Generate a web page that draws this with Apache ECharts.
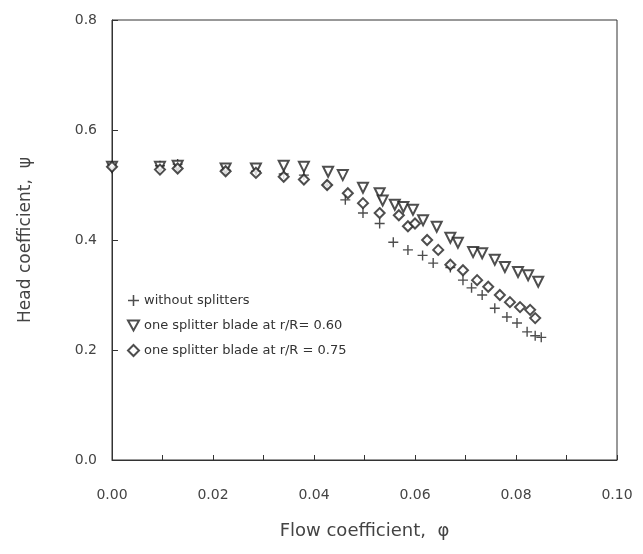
<!DOCTYPE html>
<html>
<head>
<meta charset="utf-8">
<script src="https://cdn.jsdelivr.net/npm/echarts@6/dist/echarts.min.js"></script>
<style>
	html, body { margin: 0; padding: 0; background: #fff; }
	#chart { width: 643px; height: 554px; }
</style>
</head>
<body>
<div id="chart"></div>
<script>
// Flow coefficient (phi) and head coefficient (psi) per series
var plainPhi = [0.0, 0.0095, 0.013, 0.0225, 0.0285, 0.034, 0.038, 0.0426, 0.0462, 0.0497, 0.053, 0.0557, 0.0586, 0.0615, 0.0636, 0.067, 0.0695, 0.0712, 0.0733, 0.0758, 0.0782, 0.0802, 0.0822, 0.0838, 0.085];
var plainPsi = [0.533, 0.535, 0.538, 0.527, 0.525, 0.52, 0.518, 0.50, 0.473, 0.449, 0.43, 0.396, 0.382, 0.372, 0.358, 0.35, 0.327, 0.313, 0.30, 0.276, 0.26, 0.249, 0.233, 0.226, 0.223];

var split60Phi = [0.0, 0.0095, 0.013, 0.0225, 0.0285, 0.034, 0.038, 0.0428, 0.0457, 0.0497, 0.053, 0.0536, 0.056, 0.0577, 0.0596, 0.0616, 0.0643, 0.067, 0.0685, 0.0715, 0.0733, 0.0758, 0.0778, 0.0804, 0.0824, 0.0844];
var split60Psi = [0.533, 0.533, 0.535, 0.53, 0.53, 0.535, 0.533, 0.524, 0.518, 0.495, 0.485, 0.472, 0.464, 0.46, 0.455, 0.436, 0.424, 0.404, 0.395, 0.378, 0.376, 0.364, 0.351, 0.342, 0.336, 0.324];

var split75Phi = [0.0, 0.0095, 0.013, 0.0225, 0.0285, 0.034, 0.038, 0.0426, 0.0467, 0.0497, 0.053, 0.0568, 0.0586, 0.06, 0.0624, 0.0646, 0.067, 0.0695, 0.0723, 0.0745, 0.0768, 0.0788, 0.0808, 0.0828, 0.0838];
var split75Psi = [0.533, 0.528, 0.53, 0.525, 0.522, 0.515, 0.51, 0.50, 0.485, 0.467, 0.449, 0.445, 0.425, 0.43, 0.40, 0.382, 0.355, 0.345, 0.327, 0.315, 0.30, 0.287, 0.278, 0.273, 0.258];

var seriesNames = ["without splitters", "one splitter blade at r/R= 0.60", "one splitter blade at r/R = 0.75"];

function pairs(xs, ys) {
	return xs.map(function (x, i) {
		return [x, ys[i]];
	});
}

var ink = "#222";
var plus = "path://M4.3,0H5.7V4.3H10V5.7H5.7V10H4.3V5.7H0V4.3H4.3Z";
// 倒三角
var downTri = "path://M0,0L10,0L5,9Z";

var myChart = echarts.init(document.getElementById("chart"), null, { renderer: "canvas" });
var option = {
	animation: false,
	textStyle: { fontFamily: "DejaVu Sans" },
	grid: {
		left: 112,
		right: 26,
		top: 20,
		bottom: 94,
		show: true,
		borderColor: "#333",
		borderWidth: 1
	},
	legend: {
		orient: "vertical",
		left: 122,
		top: 289,
		itemGap: 12,
		itemWidth: 11,
		itemHeight: 11,
		textStyle: { color: "#333", fontSize: 13 },
		data: seriesNames
	},
	xAxis: {
		type: "value",
		min: 0,
		max: 0.1,
		interval: 0.02,
		name: "Flow coefficient,  φ",
		nameLocation: "middle",
		nameGap: 62,
		nameTextStyle: { fontSize: 18, color: "#444" },
		axisLine: { lineStyle: { color: "#333" } },
		axisTick: { inside: true, length: 5, lineStyle: { color: "#333" } },
		minorTick: { show: true, splitNumber: 2, length: 5, lineStyle: { color: "#333" } },
		axisLabel: {
			margin: 28,
			fontSize: 14,
			color: "#444",
			formatter: function (v) { return v.toFixed(2); }
		},
		splitLine: { show: false }
	},
	yAxis: {
		type: "value",
		min: 0,
		max: 0.8,
		interval: 0.2,
		name: "Head coefficient,  ψ",
		nameLocation: "middle",
		nameGap: 78,
		nameTextStyle: { fontSize: 17, color: "#444" },
		axisLine: { lineStyle: { color: "#333" } },
		axisTick: { inside: true, length: 6, lineStyle: { color: "#333" } },
		axisLabel: {
			margin: 15,
			fontSize: 14,
			color: "#444",
			formatter: function (v) { return v.toFixed(1); }
		},
		splitLine: { show: false }
	},
	series: [
		{
			name: seriesNames[0],
			type: "scatter",
			symbol: plus,
			symbolSize: 10,
			itemStyle: { color: ink },
			data: pairs(plainPhi, plainPsi)
		},
		{
			name: seriesNames[1],
			type: "scatter",
			symbol: downTri,
			symbolSize: 10,
			itemStyle: { color: "#fff", borderColor: ink, borderWidth: 2 },
			data: pairs(split60Phi, split60Psi)
		},
		{
			name: seriesNames[2],
			type: "scatter",
			symbol: "diamond",
			symbolSize: 10,
			itemStyle: { color: "#fff", borderColor: ink, borderWidth: 2 },
			data: pairs(split75Phi, split75Psi)
		}
	]
};
myChart.setOption(option);
window.addEventListener("resize", myChart.resize);
</script>
</body>
</html>
